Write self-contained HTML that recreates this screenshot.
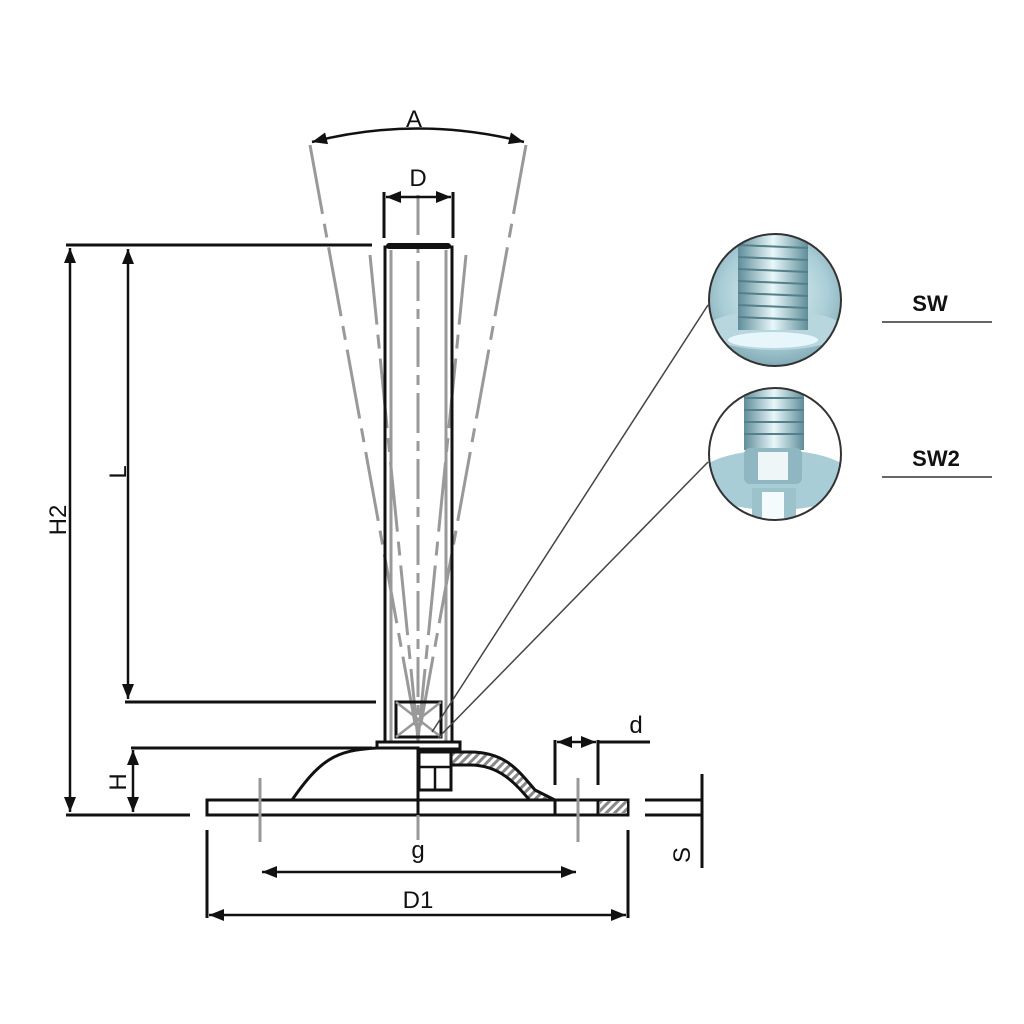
<!DOCTYPE html>
<html><head><meta charset="utf-8"><style>
html,body{margin:0;padding:0;background:#fff;width:1024px;height:1024px;overflow:hidden}
svg{display:block}
text{font-family:"Liberation Sans",Arial,sans-serif;fill:#111}
</style></head><body>
<svg width="1024" height="1024" viewBox="0 0 1024 1024" xmlns="http://www.w3.org/2000/svg">
<defs>
<marker id="ar" viewBox="0 0 10 10" refX="10" refY="5" markerWidth="8" markerHeight="6" orient="auto-start-reverse"><path d="M0,1 L10,5 L0,9 z" fill="#111"/></marker>
<pattern id="hatch" width="6" height="6" patternUnits="userSpaceOnUse" patternTransform="rotate(45)"><rect width="6" height="6" fill="#fff"/><rect width="3" height="6" fill="#888"/></pattern>
<radialGradient id="metal" cx="50%" cy="45%" r="60%"><stop offset="0" stop-color="#e6f3f6"/><stop offset="0.6" stop-color="#a9cdd6"/><stop offset="1" stop-color="#6f9aa6"/></radialGradient>
<linearGradient id="thr" x1="0" x2="1"><stop offset="0" stop-color="#5f8d99"/><stop offset="0.5" stop-color="#e8f7fa"/><stop offset="1" stop-color="#5f8d99"/></linearGradient>
<clipPath id="c1"><circle cx="775" cy="300" r="66"/></clipPath>
<clipPath id="c2"><circle cx="775" cy="454" r="66"/></clipPath>
</defs>

<!-- cone dashed lines -->
<g stroke="#999" stroke-width="3" fill="none" stroke-dasharray="70,10,14,10">
<line x1="310" y1="145" x2="418" y2="740"/>
<line x1="526" y1="145" x2="418" y2="740"/>
<line x1="370" y1="255" x2="418" y2="740"/>
<line x1="466" y1="255" x2="418" y2="740"/>
</g>
<line x1="418" y1="195" x2="418" y2="840" stroke="#999" stroke-width="3" stroke-dasharray="40,8,10,8"/>

<!-- A arc -->
<path d="M312,142 Q418,115 524,142" fill="none" stroke="#111" stroke-width="2.5" marker-start="url(#ar)" marker-end="url(#ar)"/>
<text x="414" y="127" font-size="24" text-anchor="middle">A</text>

<!-- D -->
<g stroke="#111" stroke-width="3">
<line x1="384" y1="192" x2="384" y2="238"/><line x1="453" y1="192" x2="453" y2="238"/>
</g>
<line x1="386" y1="197" x2="451" y2="197" stroke="#111" stroke-width="2.5" marker-start="url(#ar)" marker-end="url(#ar)"/>
<text x="418" y="186" font-size="24" text-anchor="middle">D</text>

<!-- rod -->
<rect x="385" y="247" width="67" height="495" fill="none" stroke="#111" stroke-width="3"/>
<rect x="386" y="243" width="65" height="6" rx="3" fill="#111"/>
<line x1="391" y1="250" x2="391" y2="742" stroke="#999" stroke-width="3"/>
<line x1="446" y1="250" x2="446" y2="742" stroke="#999" stroke-width="3"/>
<rect x="396" y="702" width="45" height="35" fill="none" stroke="#111" stroke-width="3"/>
<g stroke="#999" stroke-width="2.5"><line x1="396" y1="702" x2="441" y2="737"/><line x1="441" y1="702" x2="396" y2="737"/></g>

<!-- leader lines -->
<g stroke="#444" stroke-width="1.5"><line x1="432" y1="732" x2="708" y2="305"/><line x1="438" y1="738" x2="708" y2="462"/></g>

<!-- cap plate -->
<rect x="377" y="742" width="83" height="7" fill="#fff" stroke="#111" stroke-width="3"/>

<!-- base -->
<path d="M292,800 C320,760 335,750 377,748 L418,748 L418,800 Z" fill="#fff" stroke="#111" stroke-width="3"/>
<path d="M446,752 L470,752 C505,752 518,770 535,790 L555,800 L555,812 L540,812 C520,790 505,765 470,765 L446,765 Z" fill="url(#hatch)" stroke="#111" stroke-width="3"/>
<rect x="207" y="800" width="421" height="15" fill="#fff" stroke="#111" stroke-width="3"/>
<line x1="207" y1="800" x2="418" y2="800" stroke="#111" stroke-width="3"/>
<rect x="600" y="801" width="27" height="12" fill="url(#hatch)"/>
<line x1="555" y1="800" x2="555" y2="815" stroke="#111" stroke-width="3"/>
<line x1="598" y1="800" x2="598" y2="815" stroke="#111" stroke-width="3"/>
<!-- nut -->
<rect x="419" y="752" width="32" height="38" fill="#fff" stroke="#111" stroke-width="3"/>
<line x1="419" y1="767" x2="451" y2="767" stroke="#111" stroke-width="2.5"/>
<line x1="435" y1="767" x2="435" y2="790" stroke="#111" stroke-width="2.5"/>
<line x1="418" y1="748" x2="418" y2="815" stroke="#111" stroke-width="3"/>
<line x1="418" y1="815" x2="418" y2="840" stroke="#999" stroke-width="3"/>

<!-- g dashed verticals -->
<g stroke="#999" stroke-width="3"><line x1="260" y1="778" x2="260" y2="842"/><line x1="578" y1="778" x2="578" y2="842"/></g>
<line x1="262" y1="872" x2="576" y2="872" stroke="#111" stroke-width="2.5" marker-start="url(#ar)" marker-end="url(#ar)"/>
<text x="418" y="858" font-size="24" text-anchor="middle">g</text>

<!-- D1 -->
<g stroke="#111" stroke-width="3"><line x1="207" y1="830" x2="207" y2="918"/><line x1="628" y1="830" x2="628" y2="918"/></g>
<line x1="209" y1="915" x2="626" y2="915" stroke="#111" stroke-width="2.5" marker-start="url(#ar)" marker-end="url(#ar)"/>
<text x="418" y="908" font-size="24" text-anchor="middle">D1</text>

<!-- d -->
<g stroke="#111" stroke-width="3"><line x1="555" y1="740" x2="555" y2="785"/><line x1="598" y1="740" x2="598" y2="785"/><line x1="598" y1="742" x2="650" y2="742"/></g>
<line x1="557" y1="742" x2="596" y2="742" stroke="#111" stroke-width="2.5" marker-start="url(#ar)" marker-end="url(#ar)"/>
<text x="636" y="733" font-size="24" text-anchor="middle">d</text>

<!-- S -->
<g stroke="#111" stroke-width="3"><line x1="645" y1="800" x2="702" y2="800"/><line x1="645" y1="815" x2="702" y2="815"/><line x1="702" y1="774" x2="702" y2="868"/></g>
<text transform="translate(690,855) rotate(-90)" font-size="24" text-anchor="middle">S</text>

<!-- H2 -->
<g stroke="#111" stroke-width="3">
<line x1="66" y1="245" x2="372" y2="245"/>
<line x1="66" y1="815" x2="190" y2="815"/>
<line x1="125" y1="702" x2="376" y2="702"/>
<line x1="131" y1="748" x2="372" y2="748"/>
</g>
<line x1="70" y1="248" x2="70" y2="812" stroke="#111" stroke-width="2.5" marker-start="url(#ar)" marker-end="url(#ar)"/>
<text transform="translate(66,520) rotate(-90)" font-size="24" text-anchor="middle">H2</text>
<line x1="128" y1="249" x2="128" y2="699" stroke="#111" stroke-width="2.5" marker-start="url(#ar)" marker-end="url(#ar)"/>
<text transform="translate(126,472) rotate(-90)" font-size="24" text-anchor="middle">L</text>
<line x1="133" y1="750" x2="133" y2="812" stroke="#111" stroke-width="2.5" marker-start="url(#ar)" marker-end="url(#ar)"/>
<text transform="translate(126,782) rotate(-90)" font-size="24" text-anchor="middle">H</text>

<!-- circles -->
<g clip-path="url(#c1)">
<rect x="700" y="230" width="150" height="140" fill="url(#metal)"/>
<ellipse cx="775" cy="330" rx="70" ry="20" fill="#b7d6de"/>
<rect x="738" y="230" width="70" height="100" fill="url(#thr)"/>
<g stroke="#557f8a" stroke-width="2">
<line x1="738" y1="245" x2="808" y2="248"/><line x1="738" y1="257" x2="808" y2="260"/><line x1="738" y1="269" x2="808" y2="272"/><line x1="738" y1="281" x2="808" y2="284"/><line x1="738" y1="293" x2="808" y2="296"/><line x1="738" y1="305" x2="808" y2="308"/><line x1="738" y1="317" x2="808" y2="320"/>
</g>
<ellipse cx="773" cy="340" rx="45" ry="8" fill="#e6f6fa"/>
</g>
<circle cx="775" cy="300" r="66" fill="none" stroke="#333" stroke-width="2"/>
<g clip-path="url(#c2)">
<rect x="700" y="385" width="150" height="140" fill="#fff"/>
<ellipse cx="775" cy="480" rx="80" ry="30" fill="#a9cdd6"/>
<rect x="744" y="385" width="60" height="65" fill="url(#thr)"/>
<g stroke="#557f8a" stroke-width="2">
<line x1="744" y1="398" x2="804" y2="398"/><line x1="744" y1="410" x2="804" y2="410"/><line x1="744" y1="422" x2="804" y2="422"/><line x1="744" y1="434" x2="804" y2="434"/>
</g>
<rect x="744" y="448" width="58" height="36" rx="6" fill="#8fb7c1"/>
<rect x="758" y="452" width="30" height="28" fill="#eef6f8"/>
<rect x="752" y="488" width="44" height="30" fill="#9cc2cb"/>
<rect x="762" y="492" width="22" height="26" fill="#f4fbfc"/>
</g>
<circle cx="775" cy="454" r="66" fill="none" stroke="#333" stroke-width="2"/>

<text x="930" y="311" font-size="22" font-weight="bold" text-anchor="middle">SW</text>
<line x1="882" y1="322" x2="992" y2="322" stroke="#333" stroke-width="1.5"/>
<text x="936" y="466" font-size="22" font-weight="bold" text-anchor="middle">SW2</text>
<line x1="882" y1="477" x2="992" y2="477" stroke="#333" stroke-width="1.5"/>
</svg>
</body></html>
